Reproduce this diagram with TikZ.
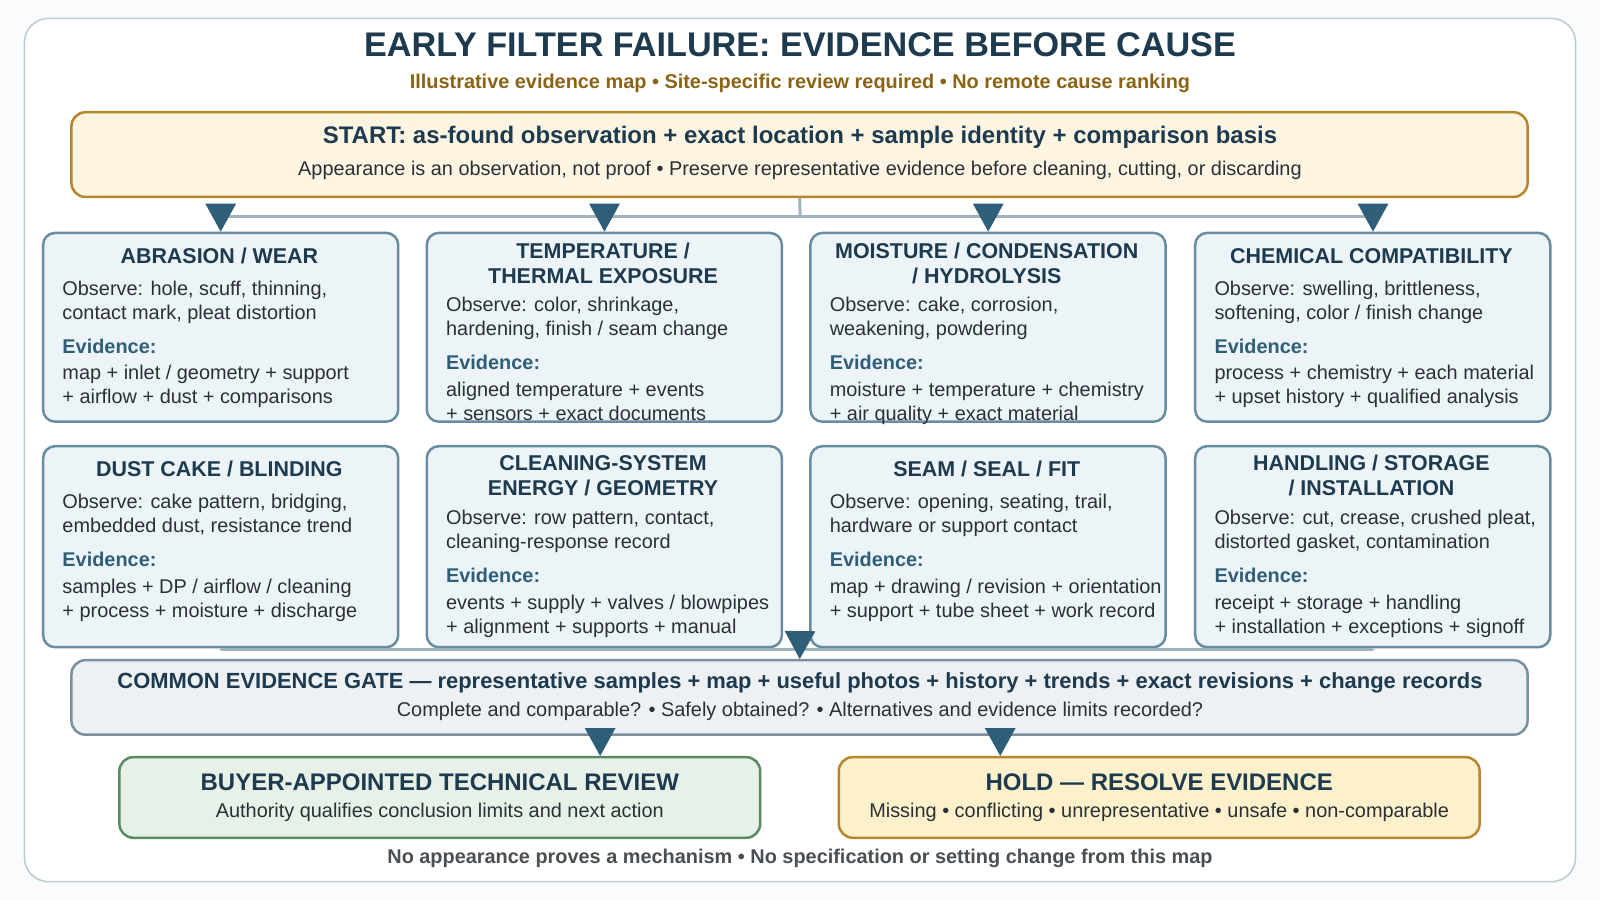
\documentclass[tikz,border=0pt]{standalone}
\usepackage{fontspec}
\setmainfont{Liberation Sans}
\usetikzlibrary{arrows.meta}
\definecolor{ink}{HTML}{1D3A4F}
\definecolor{body}{HTML}{2A3036}
\definecolor{evc}{HTML}{2F5E78}
\definecolor{brown}{HTML}{8A6414}
\definecolor{cardfill}{HTML}{EDF4F8}
\definecolor{carddraw}{HTML}{6A8CA0}
\definecolor{startfill}{HTML}{FDF5E2}
\definecolor{gold}{HTML}{B8862A}
\definecolor{linkc}{HTML}{9FB3BF}
\definecolor{gatedraw}{HTML}{7B909C}
\definecolor{gatefill}{HTML}{EDF1F4}
\definecolor{revdraw}{HTML}{5A8A64}
\definecolor{revfill}{HTML}{E8F1E8}
\definecolor{holdfill}{HTML}{FDF1CC}
\tikzset{
  card/.style={draw=carddraw, fill=cardfill, line width=2.5pt, rounded corners=12pt},
  ctitle/.style={font=\fontsize{21}{25}\selectfont\bfseries, text=ink, align=center, inner sep=0pt},
  cbody/.style={font=\fontsize{19.5}{23.5}\selectfont, text=body, align=left, anchor=north west, inner sep=0pt},
  link/.style={draw=linkc, line width=3pt},
  tip/.style={-{Triangle[length=28pt,width=30pt,color=evc]}},
}
% #1 name, #2 left x, #3 top y, #4 bottom y, #5 title, #6 title y, #7 observe y, #8 observe, #9 evidence
\newcommand\card[9]{
  \node[card, minimum width=348pt, minimum height={#4-#3}, anchor=north west] (#1) at (#2,#3) {};
  \node[ctitle] (#1t) at ({#2+174},#6) {#5};
  \node[cbody] (#1o) at ({#2+20},{#7-10}) {Observe: #8};
  \node[cbody, text=evc, font=\fontsize{19.5}{23.5}\selectfont\bfseries] (#1e) at ({#2+20},{#7+47}) {Evidence:};
  \node[cbody] (#1v) at ({#2+20},{#7+73}) {#9};
}
\begin{document}
\begin{tikzpicture}[x=1pt,y=-1pt,scale=1.0204,transform shape]
  \useasboundingbox[fill=white!95!linkc] (0,0) rectangle (1568,882);
  \draw[fill=white, draw=linkc!70, line width=1.5pt, rounded corners=24pt] (24,18) rectangle (1544,864);
  \node[font=\fontsize{33.5}{38}\selectfont\bfseries, text=ink] (title) at (784,44) {EARLY FILTER FAILURE: EVIDENCE BEFORE CAUSE};
  \node[font=\fontsize{19.5}{22}\selectfont\bfseries, text=brown] (sub) at (784,82) {Illustrative evidence map • Site-specific review required • No remote cause ranking};

  \node[draw=gold, fill=startfill, line width=2.5pt, rounded corners=14pt, minimum width=1427pt, minimum height=83pt] (start) at (783.5,151.5) {};
  \node[font=\fontsize{23.5}{26}\selectfont\bfseries, text=ink] (startt) at (784,135) {START: as-found observation + exact location + sample identity + comparison basis};
  \node[font=\fontsize{19.5}{22}\selectfont, text=body] (starts) at (784,167) {Appearance is an observation, not proof • Preserve representative evidence before cleaning, cutting, or discarding};

  \card{abr}{41}{227}{412}{ABRASION / WEAR}{251}{285}{hole, scuff, thinning,\\contact mark, pleat distortion}{map + inlet / geometry + support\\+ airflow + dust + comparisons}
  \card{tmp}{417}{227}{412}{TEMPERATURE /\\THERMAL EXPOSURE}{258}{301}{color, shrinkage,\\hardening, finish / seam change}{aligned temperature + events\\+ sensors + exact documents}
  \card{moi}{793}{227}{412}{MOISTURE / CONDENSATION\\/ HYDROLYSIS}{258}{301}{cake, corrosion,\\weakening, powdering}{moisture + temperature + chemistry\\+ air quality + exact material}
  \card{chm}{1170}{227}{412}{CHEMICAL COMPATIBILITY}{251}{285}{swelling, brittleness,\\softening, color / finish change}{process + chemistry + each material\\+ upset history + qualified analysis}
  \card{dst}{41}{436}{633}{DUST CAKE / BLINDING}{460}{494}{cake pattern, bridging,\\embedded dust, resistance trend}{samples + DP / airflow / cleaning\\+ process + moisture + discharge}
  \card{cln}{417}{436}{633}{CLEANING-SYSTEM\\ENERGY / GEOMETRY}{466}{510}{row pattern, contact,\\cleaning-response record}{events + supply + valves / blowpipes\\+ alignment + supports + manual}
  \card{sea}{793}{436}{633}{SEAM / SEAL / FIT}{460}{494}{opening, seating, trail,\\hardware or support contact}{map + drawing / revision + orientation\\+ support + tube sheet + work record}
  \card{hnd}{1170}{436}{633}{HANDLING / STORAGE\\/ INSTALLATION}{466}{510}{cut, crease, crushed pleat,\\distorted gasket, contamination}{receipt + storage + handling\\+ installation + exceptions + signoff}

  \node[draw=gatedraw, fill=gatefill, line width=2.5pt, rounded corners=14pt, minimum width=1427pt, minimum height=73pt] (gate) at (783.5,683.5) {};
  \node[font=\fontsize{21.5}{26}\selectfont\bfseries, text=ink] (gatet) at (784,669) {COMMON EVIDENCE GATE — representative samples + map + useful photos + history + trends + exact revisions + change records};
  \node[font=\fontsize{19.5}{22}\selectfont, text=body] (gates) at (784,697) {Complete and comparable? • Safely obtained? • Alternatives and evidence limits recorded?};

  \node[draw=revdraw, fill=revfill, line width=2.5pt, rounded corners=14pt, minimum width=628pt, minimum height=79pt] (review) at (431,781.5) {};
  \node[font=\fontsize{23.5}{26}\selectfont\bfseries, text=ink] (reviewt) at (431,767) {BUYER-APPOINTED TECHNICAL REVIEW};
  \node[font=\fontsize{19.5}{22}\selectfont, text=body] (reviews) at (431,796) {Authority qualifies conclusion limits and next action};
  \node[draw=gold, fill=holdfill, line width=2.5pt, rounded corners=14pt, minimum width=628pt, minimum height=79pt] (hold) at (1136,781.5) {};
  \node[font=\fontsize{23.5}{26}\selectfont\bfseries, text=ink] (holdt) at (1136,767) {HOLD — RESOLVE EVIDENCE};
  \node[font=\fontsize{19.5}{22}\selectfont, text=body] (holds) at (1136,796) {Missing • conflicting • unrepresentative • unsafe • non-comparable};

  \node[font=\fontsize{19.5}{22}\selectfont\bfseries, text=body!85!white] (foot) at (784,841) {No appearance proves a mechanism • No specification or setting change from this map};

  % connectors
  \coordinate (tj) at (784,212);
  \coordinate (bj) at (784,636);
  \coordinate (g1) at (588,720);
  \coordinate (g2) at (980,720);
  \draw[link] (start.south) -- (tj);
  \draw[link] (abr.north |- tj) -- (hnd.north |- tj);
  \foreach \c in {abr,tmp,moi,chm} \draw[link, tip] (tj -| \c.north) -- (\c.north);
  \foreach \c in {dst,cln,sea,hnd} \draw[link] (\c.south) -- (bj -| \c.south);
  \draw[link] (bj -| dst.south) -- (bj -| hnd.south);
  \draw[link, tip] (784,619) -- (gate.north);
  \draw[link, tip] (g1) -- (g1 |- review.north);
  \draw[link, tip] (g2) -- (g2 |- hold.north);
\end{tikzpicture}
\end{document}
